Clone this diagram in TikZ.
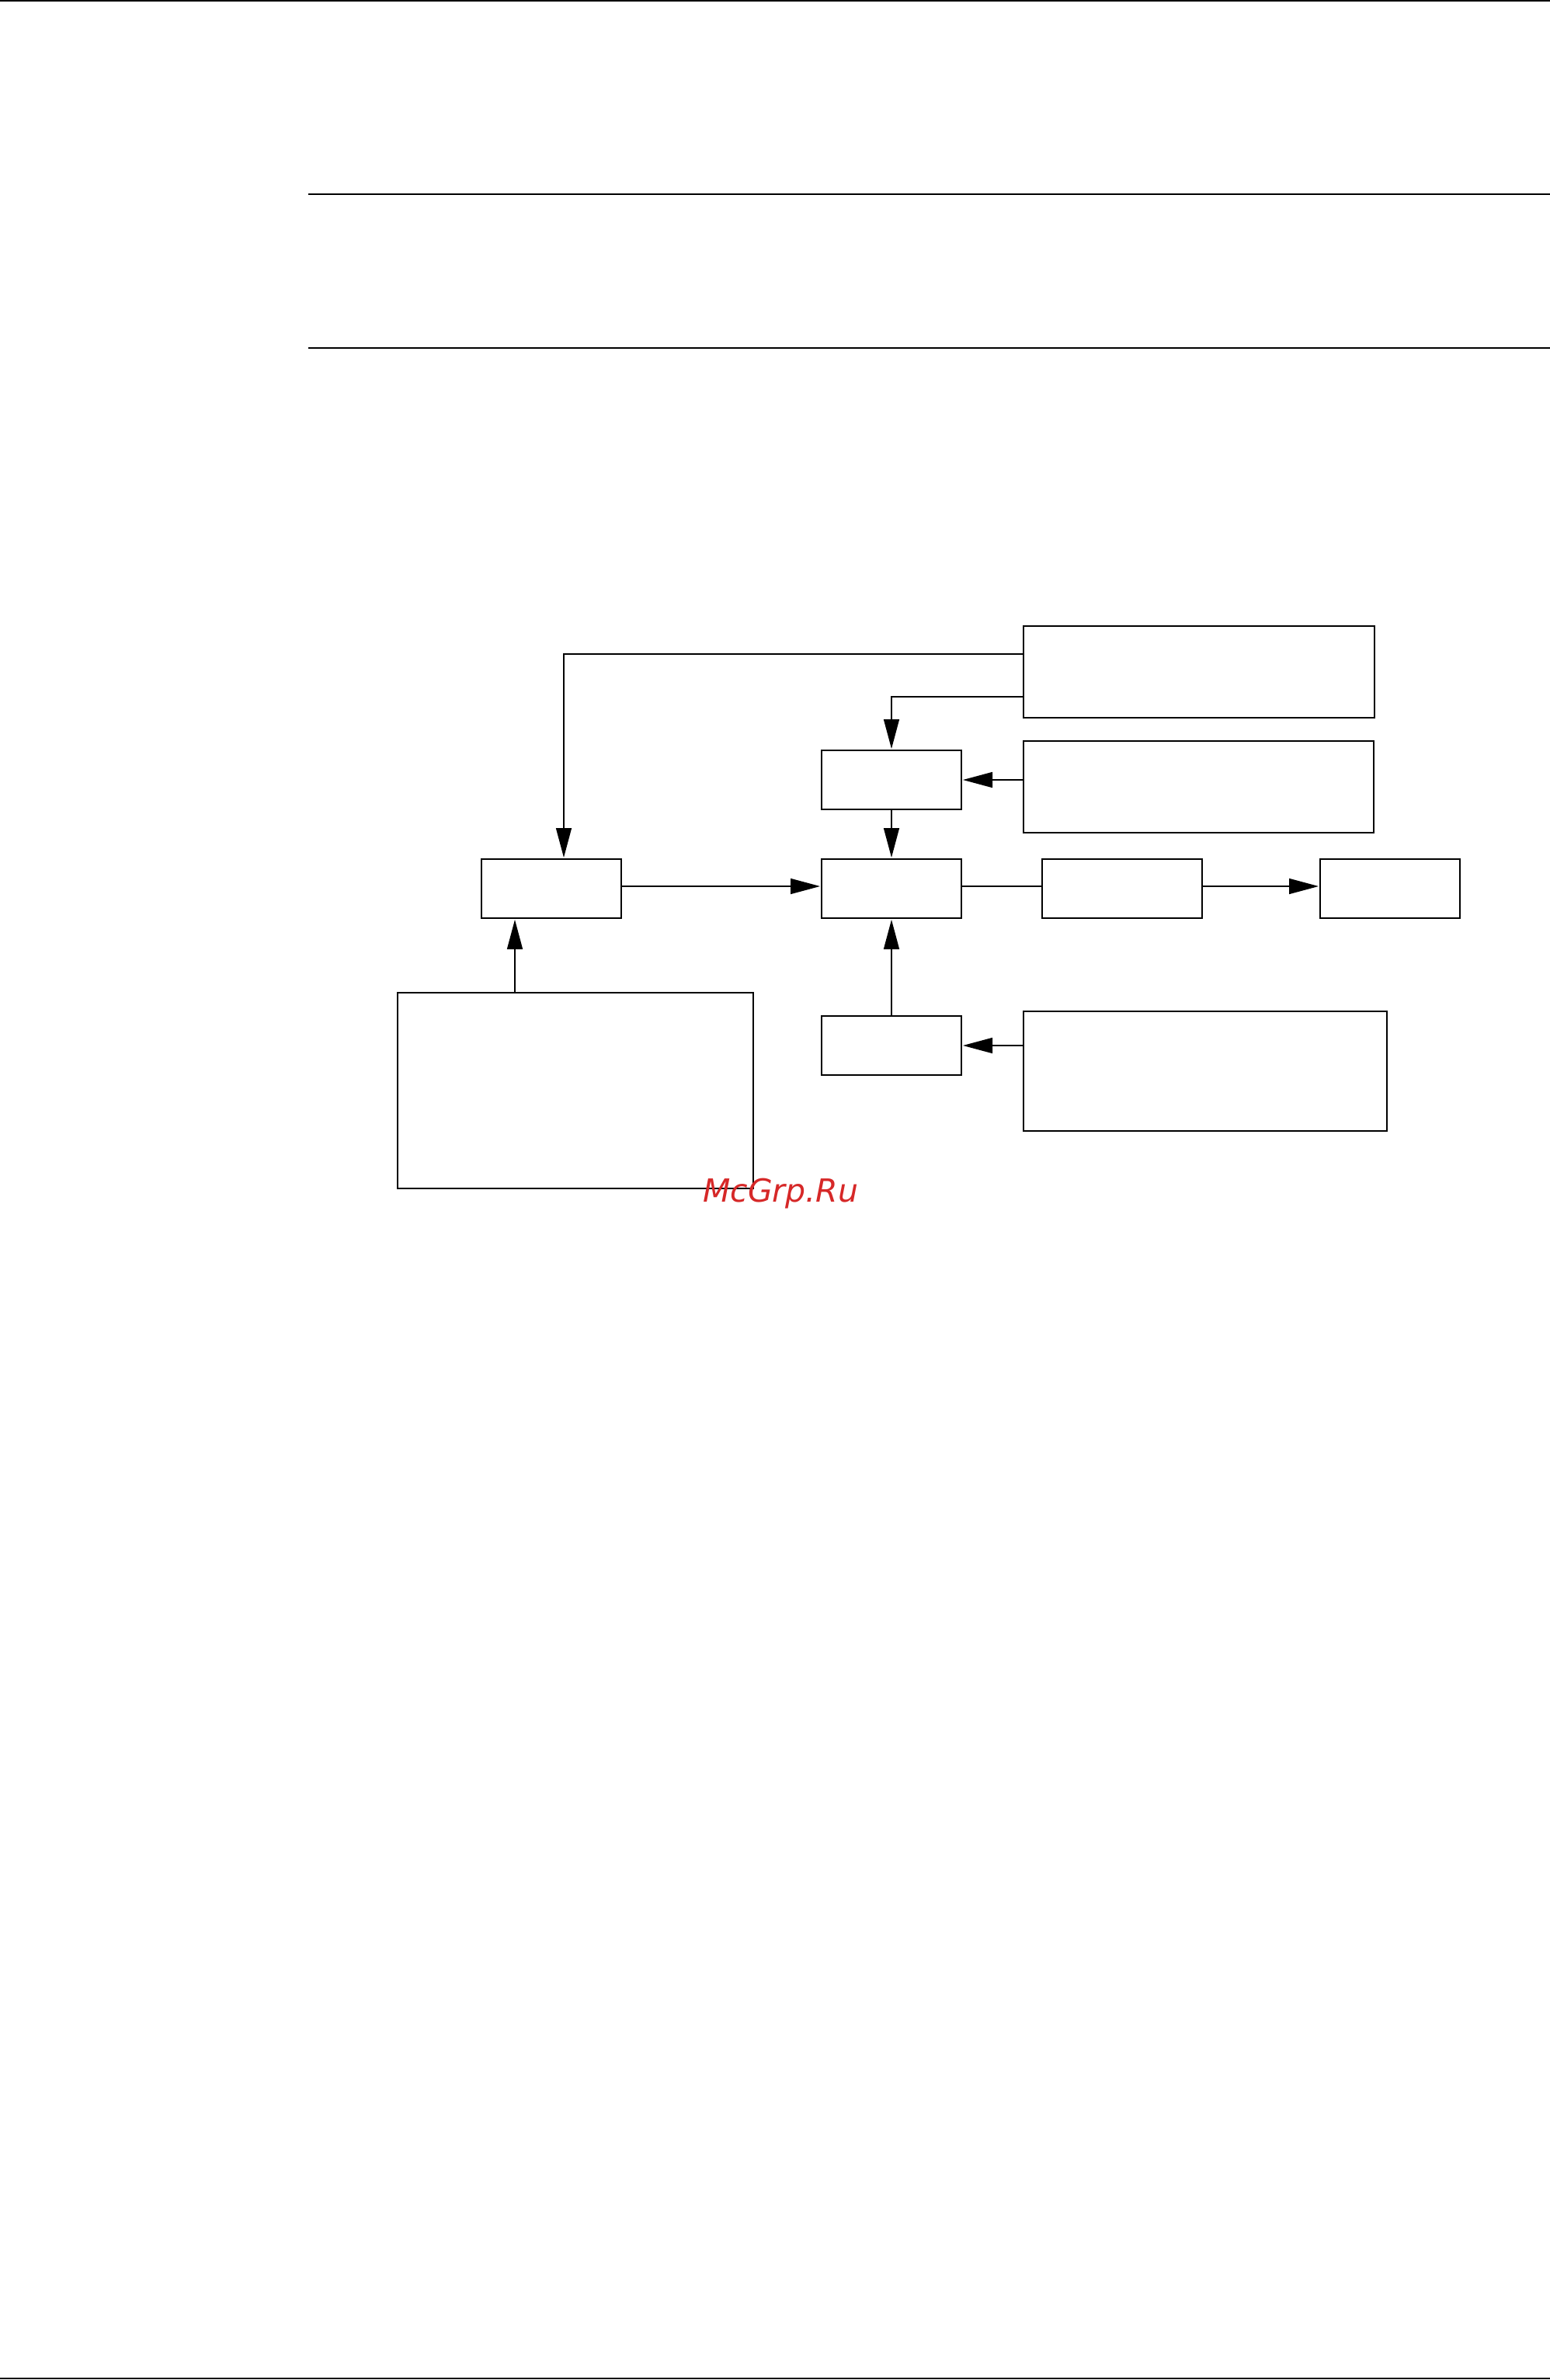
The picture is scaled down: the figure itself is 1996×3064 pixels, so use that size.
\documentclass[tikz,border=0pt]{standalone}
\usepackage{fontspec}
\setmainfont{DejaVu Sans}
\usetikzlibrary{arrows.meta}
\definecolor{wmred}{RGB}{214,40,40}
\tikzset{
  box/.style={draw=black, line width=1.8pt, inner sep=0pt, outer sep=0pt, anchor=north west, fill=none},
  arr/.style={line width=1.5pt, -{Triangle[length=38pt,width=20pt]}, shorten >=2pt},
  conn/.style={line width=1.5pt},
  rule/.style={line width=2pt}
}
\begin{document}
\begin{tikzpicture}[x=1pt,y=-1pt]
\useasboundingbox (0,0) rectangle (1996,3064);
% page rules
\draw[rule] (0,1) -- (1996,1);
\draw[rule] (397,250) -- (1996,250);
\draw[rule] (397,448) -- (1996,448);
\draw[rule] (0,3062) -- (1996,3062);
% boxes
\node[box, minimum width=452pt, minimum height=118pt] (A) at (1318,806) {};
\node[box, minimum width=180pt, minimum height=76pt] (B) at (1058,966) {};
\node[box, minimum width=451pt, minimum height=118pt] (C) at (1318,954) {};
\node[box, minimum width=180pt, minimum height=76pt] (E) at (620,1106) {};
\node[box, minimum width=180pt, minimum height=76pt] (D) at (1058,1106) {};
\node[box, minimum width=206pt, minimum height=76pt] (F) at (1342,1106) {};
\node[box, minimum width=180pt, minimum height=76pt] (G) at (1700,1106) {};
\node[box, minimum width=458pt, minimum height=252pt] (H) at (512,1278) {};
\node[box, minimum width=180pt, minimum height=76pt] (I) at (1058,1308) {};
\node[box, minimum width=468pt, minimum height=154pt] (J) at (1318,1302) {};
% connectors
\coordinate (ae) at ([xshift=16pt]E.north);
\coordinate (as) at ([yshift=23pt]A.west);
\draw[arr] (as) -| (ae);
\coordinate (ab) at ([yshift=-32pt]A.west);
\draw[arr] (ab) -| (B.north);
\draw[arr] (C.west |- B.east) -- (B.east);
\draw[arr] (B.south) -- (D.north);
\draw[arr] ([yshift=3pt]E.east) -- ([yshift=3pt]D.west);
\draw[conn] ([yshift=3pt]D.east) -- ([yshift=3pt]F.west);
\draw[arr] ([yshift=3pt]F.east) -- ([yshift=3pt]G.west);
\coordinate (e1) at ([xshift=-47pt]E.south);
\draw[arr] (e1 |- H.north) -- (e1);
\draw[arr] (I.north) -- (D.south);
\draw[arr] (J.west |- I.east) -- (I.east);
% watermark
\node[anchor=base west, inner sep=0pt, text=wmred, font=\fontsize{41}{41}\selectfont\itshape] (wm) at (905,1547) {McGrp.Ru};
\end{tikzpicture}
\end{document}
